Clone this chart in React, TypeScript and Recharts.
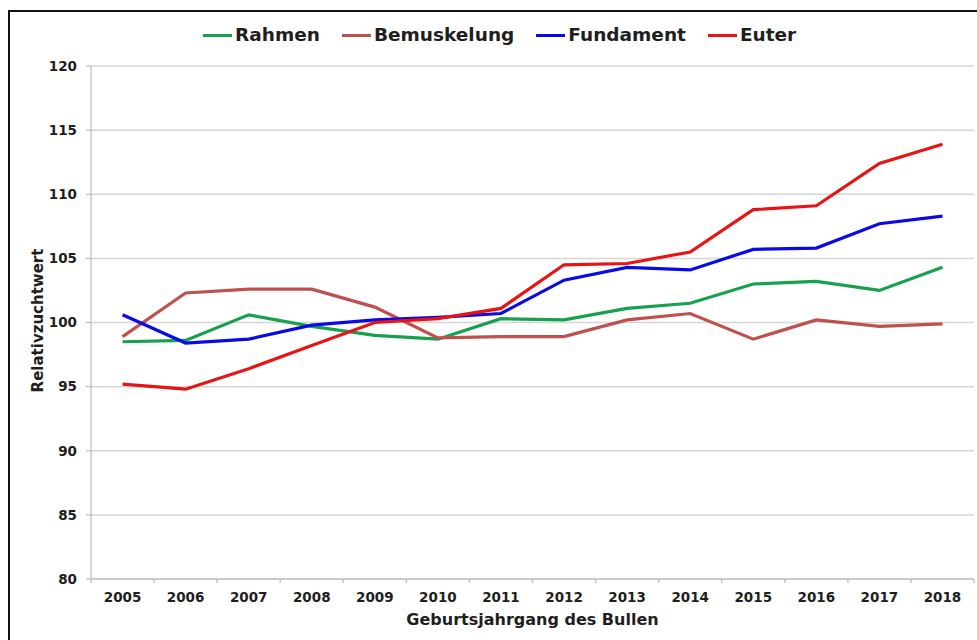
import { CartesianGrid, Legend, Line, LineChart, XAxis, YAxis } from "recharts";

const years = ["2005", "2006", "2007", "2008", "2009", "2010", "2011", "2012", "2013", "2014", "2015", "2016", "2017", "2018"];
const rahmen = [98.5, 98.6, 100.6, 99.7, 99.0, 98.7, 100.3, 100.2, 101.1, 101.5, 103.0, 103.2, 102.5, 104.3];
const bemuskelung = [98.9, 102.3, 102.6, 102.6, 101.2, 98.8, 98.9, 98.9, 100.2, 100.7, 98.7, 100.2, 99.7, 99.9];
const fundament = [100.6, 98.4, 98.7, 99.8, 100.2, 100.4, 100.7, 103.3, 104.3, 104.1, 105.7, 105.8, 107.7, 108.3];
const euter = [95.2, 94.8, 96.4, 98.2, 100.0, 100.3, 101.1, 104.5, 104.6, 105.5, 108.8, 109.1, 112.4, 113.9];
const yTicks = [80, 85, 90, 95, 100, 105, 110, 115, 120];

const series = [
  { key: "Rahmen", values: rahmen, color: "#17a14f" },
  { key: "Bemuskelung", values: bemuskelung, color: "#c0504d" },
  { key: "Fundament", values: fundament, color: "#0a0ae6" },
  { key: "Euter", values: euter, color: "#e81414" },
];

const data = years.map((year, i) => {
  const row: Record<string, string | number> = { year };
  for (const s of series) row[s.key] = s.values[i];
  return row;
});

const W = 977;
const H = 640;
const Y_AXIS_W = 91;
const RIGHT = 3;
const TOP = 66;
const X_AXIS_H = 61;
const BAND = (W - Y_AXIS_W - RIGHT) / years.length;
const FONT = "'DejaVu Sans', Verdana, sans-serif";
const TEXT = "#1e1e1e";

function YearTick(props: any) {
  const { x, y, payload, index } = props;
  const left = x - BAND / 2;
  return (
    <g>
      <line x1={left} y1={y} x2={left} y2={y + 4} stroke="#c4c4c4" strokeWidth={1.5} />
      {index === years.length - 1 && (
        <line x1={x + BAND / 2} y1={y} x2={x + BAND / 2} y2={y + 4} stroke="#c4c4c4" strokeWidth={1.5} />
      )}
      <text x={x} y={y + 23} textAnchor="middle" fontFamily={FONT} fontWeight="bold" fontSize={13.5} fill={TEXT}>
        {payload.value}
      </text>
    </g>
  );
}

function LegendBox() {
  return (
    <div style={{ display: "flex", alignItems: "center", fontFamily: FONT, fontWeight: "bold", fontSize: 18.5, lineHeight: "20px", color: TEXT }}>
      {series.map((s) => (
        <div key={s.key} style={{ display: "flex", alignItems: "center", marginRight: 22 }}>
          <span style={{ display: "inline-block", width: 29, height: 3, background: s.color, marginRight: 3 }} />
          <span>{s.key}</span>
        </div>
      ))}
    </div>
  );
}

export default function App() {
  return (
    <div style={{ position: "fixed", left: 0, top: 0, width: W, height: H, background: "#fff", overflow: "hidden" }}>
      <div
        style={{
          position: "absolute",
          left: 8,
          top: 10,
          width: 1000,
          height: 1000,
          borderLeft: "2px solid #111",
          borderTop: "2px solid #111",
        }}
      />
      <div style={{ position: "absolute", left: 0, top: 0 }}>
        <LineChart width={W} height={H} data={data} margin={{ top: TOP, right: RIGHT, bottom: 0, left: 0 }}>
          <CartesianGrid vertical={false} stroke="#d6d6d6" strokeWidth={1.5} />
          <XAxis
            dataKey="year"
            height={X_AXIS_H}
            interval={0}
            padding={{ left: BAND / 2, right: BAND / 2 }}
            tickSize={0}
            tickMargin={0}
            tickLine={false}
            axisLine={{ stroke: "#c4c4c4", strokeWidth: 1.5 }}
            tick={<YearTick />}
            label={{
              value: "Geburtsjahrgang des Bullen",
              position: "insideBottom",
              offset: 15,
              style: { fontFamily: FONT, fontWeight: "bold", fontSize: 16, fill: TEXT },
            }}
          />
          <YAxis
            width={Y_AXIS_W}
            domain={[80, 120]}
            ticks={yTicks}
            interval={0}
            tickSize={5}
            tickMargin={9}
            axisLine={{ stroke: "#b0b0b0" }}
            tickLine={{ stroke: "#b0b0b0" }}
            tick={{ fontFamily: FONT, fontWeight: "bold", fontSize: 13.5, fill: TEXT }}
            label={(props: any) => {
              const vb = props.viewBox;
              const cy = vb.y + vb.height / 2 - 2;
              return (
                <text
                  x={43}
                  y={cy}
                  transform={`rotate(-90, 43, ${cy})`}
                  textAnchor="middle"
                  fontFamily={FONT}
                  fontWeight="bold"
                  fontSize={15}
                  fill={TEXT}
                >
                  Relativzuchtwert
                </text>
              );
            }}
          />
          <Legend
            verticalAlign="middle"
            align="center"
            layout="horizontal"
            wrapperStyle={{ top: 25, left: 203, width: 720, height: 20 }}
            content={<LegendBox />}
          />
          {series.map((s) => (
            <Line
              key={s.key}
              type="linear"
              dataKey={s.key}
              stroke={s.color}
              strokeWidth={3.2}
              dot={false}
              activeDot={false}
              isAnimationActive={false}
            />
          ))}
        </LineChart>
      </div>
    </div>
  );
}
